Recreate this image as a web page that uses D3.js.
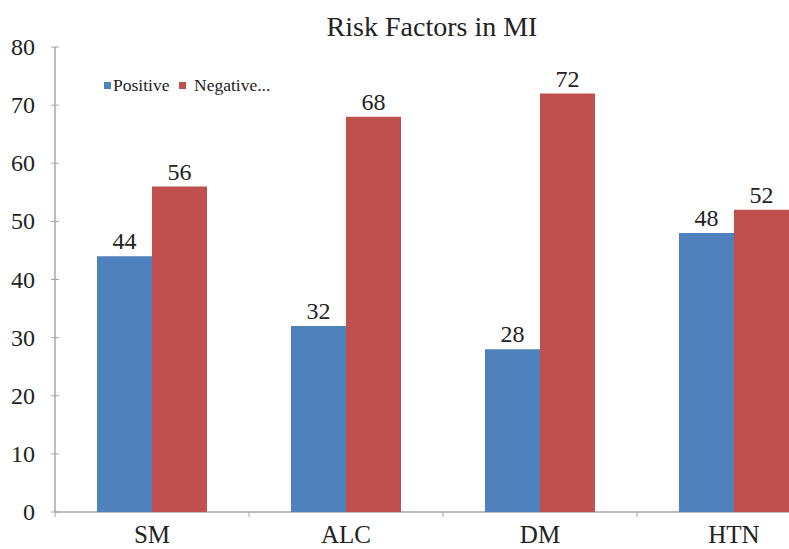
<!DOCTYPE html>
<html>
<head>
<meta charset="utf-8">
<script src="https://cdn.jsdelivr.net/npm/d3@7"></script>
<style>
  body { margin: 0; background: #fff; }
  svg { font-family: "Liberation Serif", "DejaVu Serif", serif; }
</style>
</head>
<body>
<div id="chart"></div>
<script>
const categories = ["SM", "ALC", "DM", "HTN"];
const seriesNames = ["Positive", "Negative..."];
const positive = [44, 32, 28, 48];
const negative = [56, 68, 72, 52];
const yTicks = [0, 10, 20, 30, 40, 50, 60, 70, 80];

const width = 789, height = 549;
const colors = ["#4F81BD", "#C0504D"];

const svg = d3.select("#chart").append("svg")
    .attr("width", width)
    .attr("height", height);

// plot area continues past the right edge, like the cropped original
const x0 = d3.scaleBand().domain(categories).range([55, 831]);
const x1 = d3.scaleBand().domain(seriesNames).range([42, 152]);
const y = d3.scaleLinear().domain([0, 80]).range([512, 47]);

// axes
const axisColor = "#a6a6a6";
svg.append("line")
    .attr("x1", 55).attr("x2", 55)
    .attr("y1", y(80)).attr("y2", y(0))
    .attr("stroke", axisColor).attr("stroke-width", 1.5);
svg.append("line")
    .attr("x1", 55).attr("x2", 831)
    .attr("y1", y(0)).attr("y2", y(0))
    .attr("stroke", axisColor).attr("stroke-width", 1.5);

svg.selectAll(".ytick").data(yTicks).enter().append("line")
    .attr("x1", 51).attr("x2", 59)
    .attr("y1", d => y(d)).attr("y2", d => y(d))
    .attr("stroke", axisColor);

svg.selectAll(".ylab").data(yTicks).enter().append("text")
    .attr("x", 35).attr("y", d => y(d) + 8)
    .attr("text-anchor", "end")
    .attr("font-size", 24)
    .attr("fill", "#222")
    .text(d => d);

svg.selectAll(".xtick").data(categories).enter().append("line")
    .attr("x1", d => x0(d)).attr("x2", d => x0(d))
    .attr("y1", y(0)).attr("y2", y(0) + 5)
    .attr("stroke", axisColor);

svg.selectAll(".xlab").data(categories).enter().append("text")
    .attr("x", d => x0(d) + x0.bandwidth() / 2)
    .attr("y", 543)
    .attr("text-anchor", "middle")
    .attr("font-size", 25)
    .attr("fill", "#222")
    .text(d => d);

// bars
const rows = categories.map((c, i) => ({cat: c, vals: [positive[i], negative[i]]}));
const groups = svg.selectAll(".grp").data(rows).enter().append("g")
    .attr("transform", d => "translate(" + x0(d.cat) + ",0)");

groups.selectAll("rect")
    .data(d => d.vals.map((v, k) => ({name: seriesNames[k], v: v, k: k})))
    .enter().append("rect")
    .attr("x", d => x1(d.name))
    .attr("width", x1.bandwidth())
    .attr("y", d => y(d.v))
    .attr("height", d => y(0) - y(d.v))
    .attr("fill", d => colors[d.k]);

groups.selectAll("text")
    .data(d => d.vals.map((v, k) => ({name: seriesNames[k], v: v})))
    .enter().append("text")
    .attr("x", d => x1(d.name) + x1.bandwidth() / 2)
    .attr("y", d => y(d.v) - 7)
    .attr("text-anchor", "middle")
    .attr("font-size", 24)
    .attr("fill", "#222")
    .text(d => d.v);

// title
svg.append("text")
    .attr("x", 432).attr("y", 36)
    .attr("text-anchor", "middle")
    .attr("font-size", 28)
    .attr("fill", "#222")
    .text("Risk Factors in MI");

// legend
const legendX = [104, 179];
const legend = svg.selectAll(".leg").data(seriesNames).enter().append("g")
    .attr("transform", (d, i) => "translate(" + legendX[i] + ",82)");
legend.append("rect")
    .attr("width", 7).attr("height", 7)
    .attr("fill", (d, i) => colors[i]);
legend.append("text")
    .attr("x", (d, i) => i === 0 ? 9 : 15)
    .attr("y", 9)
    .attr("font-size", 17.5)
    .attr("fill", "#222")
    .text(d => d);
</script>
</body>
</html>
